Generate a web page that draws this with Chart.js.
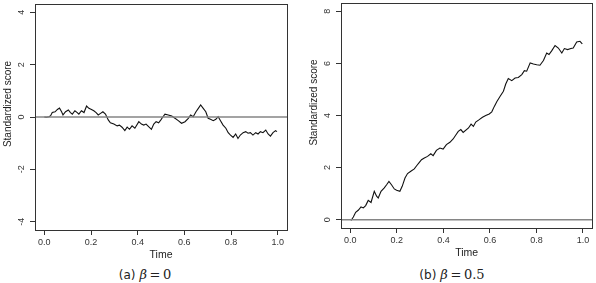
<!DOCTYPE html>
<html><head><meta charset="utf-8">
<script src="https://cdn.jsdelivr.net/npm/chart.js@4"></script>
<style>
body{margin:0;background:#fff;width:596px;height:283px;position:relative;overflow:hidden}
canvas{position:absolute}
.cap{position:absolute;top:266px;transform:translateX(-50%);white-space:nowrap;color:#222;line-height:16px}
.cap .lab{font-family:"DejaVu Sans";font-size:12px}
.cap .m{font-family:"DejaVu Serif";font-size:13px}
</style></head><body>
<canvas id="ca" width="296" height="262" style="left:0;top:0"></canvas>
<canvas id="cb" width="290" height="262" style="left:306px;top:-2px"></canvas>
<div class="cap" style="left:145px"><span class="lab">(a)</span>&nbsp;<span class="m"><i>β</i>&#8201;=&#8201;0</span></div>
<div class="cap" style="left:452px"><span class="lab">(b)</span>&nbsp;<span class="m"><i>β</i>&#8201;=&#8201;0.5</span></div>
<script>
// panel (a): beta = 0
const timeA = [0, 0.009, 0.02, 0.027, 0.034, 0.046, 0.056, 0.065, 0.074, 0.08, 0.091, 0.103, 0.112, 0.12,
  0.131, 0.141, 0.148, 0.159, 0.17, 0.181, 0.191, 0.202, 0.212, 0.222, 0.231, 0.241, 0.251, 0.262, 0.274,
  0.283, 0.298, 0.312, 0.322, 0.333, 0.345, 0.355, 0.365, 0.376, 0.388, 0.405, 0.416, 0.426, 0.436, 0.447,
  0.459, 0.469, 0.479, 0.49, 0.501, 0.507, 0.517, 0.531, 0.546, 0.56, 0.574, 0.588, 0.603, 0.617, 0.627,
  0.638, 0.65, 0.66, 0.67, 0.681, 0.692, 0.702, 0.712, 0.724, 0.735, 0.745, 0.755, 0.766, 0.778, 0.788,
  0.798, 0.809, 0.82, 0.83, 0.84, 0.852, 0.863, 0.873, 0.883, 0.894, 0.906, 0.916, 0.926, 0.937, 0.949,
  0.959, 0.969, 0.98, 0.991, 0.997];
const scoreA = [0, -0.01, 0.01, 0.05, 0.17, 0.2, 0.29, 0.34, 0.2, 0.08, 0.2, 0.27, 0.17, 0.11,
  0.24, 0.17, 0.11, 0.24, 0.17, 0.42, 0.33, 0.29, 0.24, 0.17, 0.08, 0.14, 0.2, 0.11, -0.11,
  -0.22, -0.27, -0.34, -0.31, -0.39, -0.52, -0.39, -0.47, -0.34, -0.43, -0.18, -0.27, -0.31, -0.27, -0.37,
  -0.47, -0.27, -0.18, -0.22, -0.09, -0.01, 0.11, 0.08, 0.04, -0.05, -0.14, -0.24, -0.18, -0.05, 0.08,
  0.01, 0.2, 0.33, 0.46, 0.33, 0.2, -0.05, -0.09, -0.14, -0.09, 0.01, -0.14, -0.31, -0.43, -0.6,
  -0.69, -0.78, -0.65, -0.82, -0.69, -0.6, -0.56, -0.62, -0.6, -0.69, -0.6, -0.65, -0.56, -0.6, -0.5,
  -0.65, -0.73, -0.6, -0.52, -0.56];

// panel (b): beta = 0.5
const timeB = [0.003, 0.013, 0.023, 0.034, 0.046, 0.056, 0.066, 0.077, 0.089, 0.103, 0.113, 0.12, 0.132,
  0.146, 0.156, 0.166, 0.177, 0.189, 0.199, 0.213, 0.223, 0.235, 0.246, 0.26, 0.275, 0.285, 0.295, 0.306,
  0.318, 0.332, 0.346, 0.356, 0.37, 0.385, 0.399, 0.413, 0.428, 0.442, 0.452, 0.464, 0.475, 0.485, 0.508,
  0.519, 0.529, 0.539, 0.554, 0.568, 0.582, 0.597, 0.608, 0.619, 0.63, 0.644, 0.658, 0.668, 0.679, 0.694,
  0.708, 0.722, 0.737, 0.748, 0.758, 0.773, 0.787, 0.801, 0.815, 0.83, 0.844, 0.854, 0.866, 0.88, 0.894,
  0.909, 0.92, 0.934, 0.948, 0.958, 0.973, 0.987, 0.997];
const scoreB = [-0.03, 0.1, 0.28, 0.36, 0.49, 0.45, 0.54, 0.74, 0.66, 1.09, 0.9, 0.83, 1.09,
  1.22, 1.34, 1.47, 1.34, 1.18, 1.13, 1.09, 1.28, 1.6, 1.77, 1.86, 1.95, 2.07, 2.18, 2.3,
  2.37, 2.43, 2.53, 2.46, 2.66, 2.75, 2.71, 2.88, 2.97, 3.1, 3.23, 3.39, 3.46, 3.35, 3.52,
  3.67, 3.58, 3.75, 3.84, 3.93, 4.0, 4.06, 4.14, 4.35, 4.54, 4.74, 4.93, 5.21, 5.42, 5.34,
  5.44, 5.46, 5.57, 5.72, 5.7, 6.02, 5.98, 5.95, 5.93, 6.11, 6.4, 6.34, 6.49, 6.69, 6.59,
  6.4, 6.57, 6.53, 6.57, 6.59, 6.82, 6.85, 6.75];

const xTicks = [0, 0.2, 0.4, 0.6, 0.8, 1.0];
const yTicksA = [-4, -2, 0, 2, 4];
const yTicksB = [0, 2, 4, 6, 8];
const yLimA = [-4, 4];
const yLimB = [0, 8];
const yTitle = 'Standardized score';

// R style axis: 4% extra on each side
function rExpand(lim) {
  const d = (lim[1] - lim[0]) * 0.04;
  return [lim[0] - d, lim[1] + d];
}

const boxPlugin = {
  id: 'box',
  afterDraw(chart) {
    const a = chart.chartArea, c = chart.ctx;
    c.save();
    c.strokeStyle = '#333';
    c.lineWidth = 1;
    c.strokeRect(Math.round(a.left) + 0.5, Math.round(a.top) + 0.5,
      Math.round(a.right - a.left), Math.round(a.bottom - a.top));
    c.restore();
  }
};

// y tick labels and y title turned like R does (parallel to the axis)
const yLabelPlugin = {
  id: 'yLabels',
  afterDraw(chart) {
    const s = chart.scales.y, c = chart.ctx;
    c.save();
    c.textAlign = 'center';
    c.textBaseline = 'middle';
    c.fillStyle = '#333';
    c.font = '9px "Liberation Sans"';
    s.ticks.forEach(t => {
      c.save();
      c.translate(s.right - 13, s.getPixelForValue(t.value));
      c.rotate(-Math.PI / 2);
      c.fillText(String(t.value), 0, 0);
      c.restore();
    });
    c.fillStyle = '#222';
    c.font = '10px "Liberation Sans"';
    c.translate(s.left + 8, (s.top + s.bottom) / 2 - 13);
    c.rotate(-Math.PI / 2);
    c.fillText(yTitle, 0, 0);
    c.restore();
  }
};

const tickFont = { family: 'Liberation Sans', size: 9 };
const titleFont = { family: 'Liberation Sans', size: 10.5 };

function plot(id, times, scores, yLim, yTicks, pad) {
  const xr = rExpand([0, 1]), yr = rExpand(yLim);
  new Chart(document.getElementById(id), {
    type: 'line',
    data: {
      datasets: [
        { data: [{ x: xr[0], y: 0 }, { x: xr[1], y: 0 }], borderColor: '#858585', borderWidth: 1.5, pointRadius: 0 },
        { data: times.map((t, i) => ({ x: t, y: scores[i] })), borderColor: '#111', borderWidth: 1.1, pointRadius: 0, tension: 0 }
      ]
    },
    options: {
      responsive: false,
      animation: false,
      layout: { padding: pad },
      plugins: { legend: { display: false }, tooltip: { enabled: false } },
      scales: {
        x: {
          type: 'linear', min: xr[0], max: xr[1],
          afterBuildTicks: s => { s.ticks = xTicks.map(v => ({ value: v })); },
          afterFit: s => { s.height = 32; },
          ticks: { callback: v => v.toFixed(1), font: tickFont, color: '#333', padding: 2, maxRotation: 0 },
          grid: { drawOnChartArea: false, tickLength: 5, color: '#333' },
          border: { display: false },
          title: { display: true, text: 'Time', font: titleFont, color: '#222', padding: { top: 0, bottom: 1 } }
        },
        y: {
          type: 'linear', min: yr[0], max: yr[1],
          afterBuildTicks: s => { s.ticks = yTicks.map(v => ({ value: v })); },
          afterFit: s => { s.width = 35; },
          ticks: { display: false },
          grid: { drawOnChartArea: false, tickLength: 5, color: '#333' },
          border: { display: false }
        }
      }
    },
    plugins: [boxPlugin, yLabelPlugin]
  });
}

plot('ca', timeA, scoreA, yLimA, yTicksA, { top: 4, right: 9, left: 0, bottom: 0 });
plot('cb', timeB, scoreB, yLimB, yTicksB, { top: 5, right: 3.7, left: 0, bottom: 0 });
</script>
</body></html>
